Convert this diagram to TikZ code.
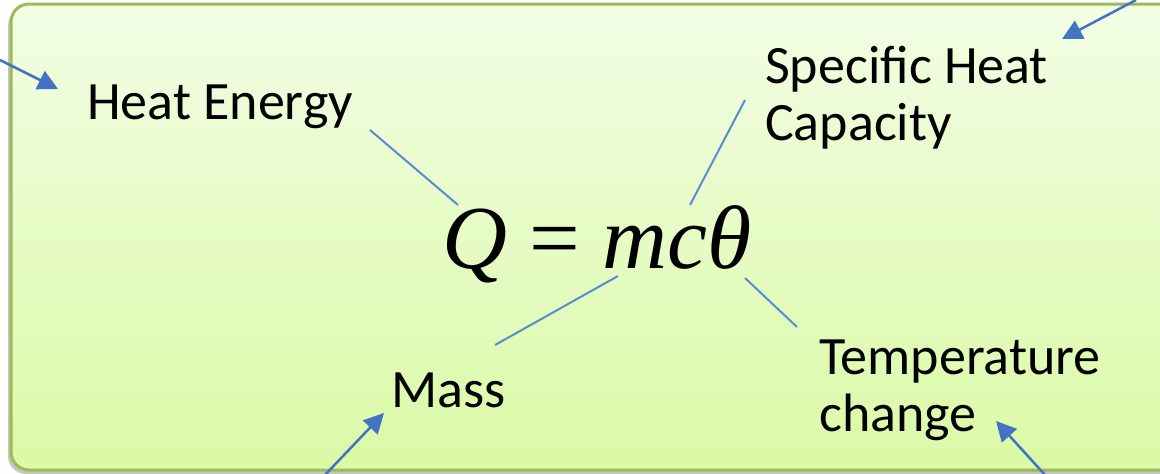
\documentclass[tikz,border=0pt]{standalone}
\usepackage{fontspec}
\setmainfont{Carlito}
\newfontfamily\timesf{Liberation Serif}
\usetikzlibrary{arrows.meta}
\definecolor{bordergreen}{HTML}{9BBB59}
\definecolor{topgreen}{RGB}{242,253,228}
\definecolor{botgreen}{RGB}{218,250,166}
\definecolor{linkblue}{HTML}{5B8BD0}
\definecolor{arrowblue}{HTML}{4472C4}
\begin{document}
\begin{tikzpicture}[x=1pt,y=-1pt,
  lbl/.style={inner sep=0pt, anchor=base west, font=\fontsize{54}{57}\selectfont, align=left},
  link/.style={draw=linkblue, line width=2pt},
  pointer/.style={draw=arrowblue, line width=2.5pt, -{Triangle[length=20pt,width=20pt]}}]
\useasboundingbox (0,0) rectangle (1160,474);
\fill[white] (0,0) rectangle (1160,474);
% panel with shadow
\fill[black!45, opacity=0.5, rounded corners=18pt] (8,8) rectangle (1180,474);
\shade[top color=topgreen, bottom color=botgreen, rounded corners=18pt,
       draw=bordergreen, line width=3pt] (11,4) rectangle (1180,470);
% labels
\node[lbl] (heat) at (87,119) {Heat Energy};
\node[lbl] (spec) at (765,140) {Specific Heat\\Capacity};
\node[lbl] (mass) at (391,407) {Mass};
\node[lbl] (temp) at (819,431) {Temperature\\change};
\node[inner sep=0pt, anchor=base] (eq) at (597,268)
  {\timesf\fontsize{90}{90}\selectfont\itshape Q \upshape= \itshape mcθ};
% links between words and formula
\coordinate (h1) at (370,130); \coordinate (h2) at (458,205);
\coordinate (s1) at (745,100); \coordinate (s2) at (690,205);
\coordinate (m1) at (618,276); \coordinate (m2) at (495,345);
\coordinate (t1) at (745,278); \coordinate (t2) at (797,327);
\draw[link] (h1) -- (h2);
\draw[link] (s1) -- (s2);
\draw[link] (m1) -- (m2);
\draw[link] (t1) -- (t2);
% pointers from outside
\coordinate (ah) at (0,60);   \coordinate (th) at (58,89);
\coordinate (as) at (1136,0); \coordinate (ts) at (1062,39);
\coordinate (am) at (324,476); \coordinate (tm) at (384,413);
\coordinate (at) at (1046,476); \coordinate (tt) at (996,421);
\draw[pointer] (ah) -- (th);
\draw[pointer] (as) -- (ts);
\draw[pointer] (am) -- (tm);
\draw[pointer] (at) -- (tt);
\end{tikzpicture}
\end{document}
